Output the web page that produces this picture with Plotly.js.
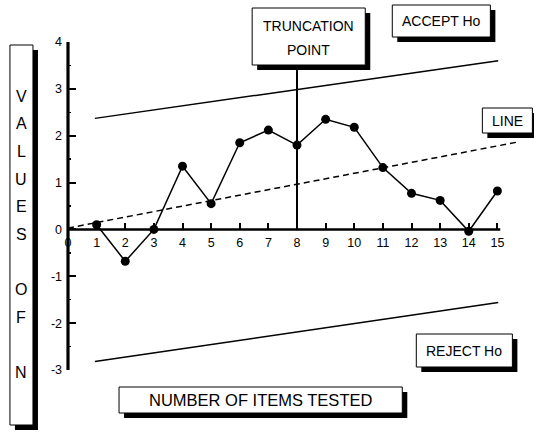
<!DOCTYPE html>
<html>
<head>
<meta charset="utf-8">
<script src="https://cdn.plot.ly/plotly-3.0.1.min.js"></script>
<style>html,body{margin:0;padding:0;background:#fff;}#chart{width:534px;height:430px;}</style>
</head>
<body>
<div id="chart"></div>
<script>
// ---- data ----
var itemsTested = [1, 2, 3, 4, 5, 6, 7, 8, 9, 10, 11, 12, 13, 14, 15];
var valuesOfN   = [0.1, -0.68, 0, 1.35, 0.55, 1.85, 2.12, 1.8, 2.35, 2.18, 1.32, 0.77, 0.62, -0.04, 0.82];
var acceptX = [0.94, 15.03];
var acceptY = [2.37, 3.6];
var rejectX = [0.94, 15.03];
var rejectY = [-2.82, -1.56];
var midX = [0, 15.75];
var midY = [0.03, 1.87];
var truncX = [8, 8];
var truncY = [0, 3.65];
var xTicks = [0, 1, 2, 3, 4, 5, 6, 7, 8, 9, 10, 11, 12, 13, 14, 15];
var yTicks = [-3, -2, -1, 0, 1, 2, 3, 4];
var xAxisEnd = 15.1;
var yLetters = ['V', 'A', 'L', 'U', 'E', 'S', '', 'O', 'F', '', 'N'];

// ---- layout geometry (pixels) ----
var FIG_W = 534, FIG_H = 430;
var ML = 68, MT = 42, PW = 457.6, PH = 328;
function px(X) { return (X - ML) / PW; }
function py(Y) { return (MT + PH - Y) / PH; }

var FONT = 'Liberation Sans, Arial, sans-serif';
var shapes = [];
var annotations = [];

function box(x0, y0, x1, y1) {
  var s = 5;
  shapes.push({type: 'rect', xref: 'paper', yref: 'paper', layer: 'above',
    x0: px(x0 + s), x1: px(x1 + s), y0: py(y1 + s), y1: py(y0 + s),
    fillcolor: '#000', line: {width: 0}});
  shapes.push({type: 'rect', xref: 'paper', yref: 'paper', layer: 'above',
    x0: px(x0), x1: px(x1), y0: py(y1), y1: py(y0),
    fillcolor: '#fff', line: {color: '#000', width: 1}});
}
function label(text, X, Y, size) {
  annotations.push({text: text, xref: 'paper', yref: 'paper', x: px(X), y: py(Y),
    xanchor: 'center', yanchor: 'middle', showarrow: false, borderpad: 0,
    font: {family: FONT, size: size, color: '#000'}});
}

box(252, 8, 365, 65);
label('TRUNCATION', 308.5, 26.5, 14);
label('POINT', 308.5, 50, 14);
box(392, 5, 490, 37);
label('ACCEPT Ho', 441, 21, 14);
box(482, 108, 532, 133);
label('LINE', 507, 120.5, 14);
box(416, 334, 512, 367);
label('REJECT Ho', 464, 350.5, 14);
box(119, 387, 402, 413);
label('NUMBER OF ITEMS TESTED', 260.5, 400, 16.5);
box(10, 45, 33, 425);
for (var i = 0; i < yLetters.length; i++) {
  if (yLetters[i]) label(yLetters[i], 21.5, 96 + i * 27.7, 16);
}

// axis lines: x along y = 0 (stopping just past the last tick), y along the left edge (x = 0)
shapes.push({type: 'line', xref: 'x', yref: 'y', layer: 'above',
  x0: 0, x1: xAxisEnd, y0: 0, y1: 0, line: {color: '#000', width: 2.5}});
shapes.push({type: 'line', xref: 'paper', yref: 'paper', layer: 'above',
  x0: 0, x1: 0, y0: 0, y1: 1, line: {color: '#000', width: 3.2}});

var traces = [
  {x: acceptX, y: acceptY, mode: 'lines', line: {color: '#000', width: 1.5}, hoverinfo: 'skip'},
  {x: rejectX, y: rejectY, mode: 'lines', line: {color: '#000', width: 1.5}, hoverinfo: 'skip'},
  {x: midX, y: midY, mode: 'lines', line: {color: '#000', width: 1.5, dash: '6px,4px'}, hoverinfo: 'skip'},
  {x: truncX, y: truncY, mode: 'lines', line: {color: '#000', width: 2}, hoverinfo: 'skip'},
  {x: itemsTested, y: valuesOfN, mode: 'lines+markers',
   line: {color: '#000', width: 1.5}, marker: {color: '#000', size: 9}}
];

var layout = {
  width: FIG_W, height: FIG_H,
  margin: {l: ML, r: FIG_W - ML - PW, t: MT, b: FIG_H - MT - PH, pad: 0},
  paper_bgcolor: '#fff', plot_bgcolor: 'rgba(0,0,0,0)',
  showlegend: false,
  font: {family: FONT, color: '#000', size: 12},
  xaxis: {
    range: [0, 16], anchor: 'free', position: 3 / 7, side: 'bottom',
    showgrid: false, zeroline: false, showline: false,
    tickmode: 'array', tickvals: xTicks, ticktext: xTicks.map(String),
    ticks: 'inside', ticklen: 6, tickwidth: 2, tickcolor: '#000',
    ticklabelstandoff: 4,
    tickfont: {family: FONT, size: 12.5, color: '#000'}
  },
  yaxis: {
    range: [-3, 4], showgrid: false, zeroline: false,
    showline: false,
    tickmode: 'array', tickvals: yTicks, ticktext: yTicks.map(String),
    ticks: 'inside', ticklen: 8, tickwidth: 2, tickcolor: '#000',
    ticklabelstandoff: 5,
    minor: {ticks: 'inside', ticklen: 3, tickwidth: 1.5, tickcolor: '#000', dtick: 0.5, showgrid: false},
    tickfont: {family: FONT, size: 12.5, color: '#000'}
  },
  shapes: shapes,
  annotations: annotations
};

Plotly.newPlot('chart', traces, layout, {displayModeBar: false, staticPlot: true});
</script>
</body>
</html>
